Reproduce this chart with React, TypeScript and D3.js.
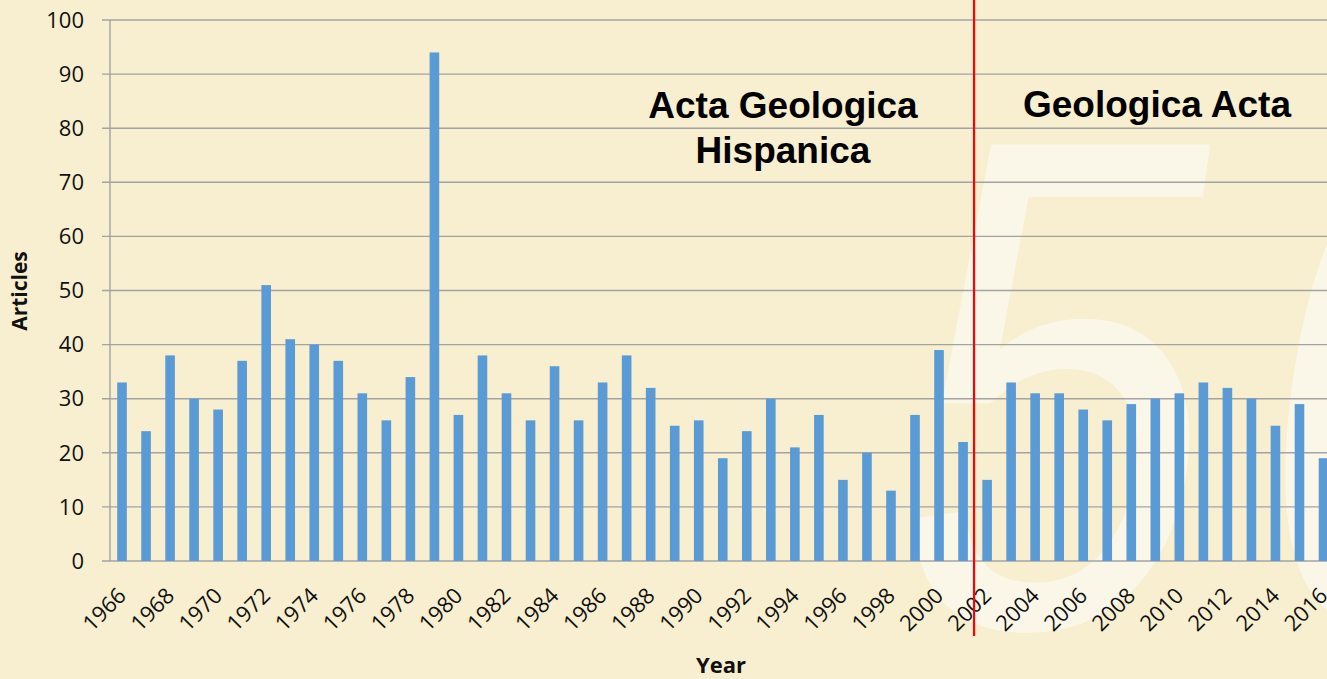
import React, { useEffect, useRef } from 'react';
import * as d3 from 'd3';

const width = 1327;
const height = 679;
const margin = { top: 20, left: 110, bottom: 118, right: 0 };
const iheight = height - margin.top - margin.bottom;
const step = 24.03;

const years = d3.range(1966, 2017).map(String);
const articles = [
  33, 24, 38, 30, 28, 37, 51, 41, 40, 37, 31, 26, 34, 94,
  27, 38, 31, 26, 36, 26, 33, 38, 32, 25, 26, 19, 24, 30, 21, 27, 15, 20, 13, 27, 39, 22,
  15, 33, 31, 31, 28, 26, 29, 30, 31, 33, 32, 30, 25, 29, 19
];
const yTicks = [0, 10, 20, 30, 40, 50, 60, 70, 80, 90, 100];
const labelYears = years.filter((d, i) => i % 2 === 0);
const splitYear = '2002';
const oldTitle = ['Acta Geologica', 'Hispanica'];
const newTitle = ['Geologica Acta'];

const bg = '#f7efcf';
const grid = '#a3a3a3';
const barColor = '#5b9bd5';

const App = () => {
  const ref = useRef(null);

  useEffect(() => {
    const svg = d3.select(ref.current);
    svg.selectAll('*').remove();

    svg.append('rect').attr('width', width).attr('height', height).attr('fill', bg);

    // big faded "50" behind the chart
    svg.append('text')
      .attr('transform', 'translate(877,626) skewX(-8) scale(0.8,1)')
      .attr('font-family', 'Liberation Sans, Arial, sans-serif')
      .attr('font-size', 700)
      .attr('letter-spacing', 60)
      .attr('fill', '#fbf7e8')
      .text('50');

    const x = d3.scaleBand()
      .domain(years)
      .range([margin.left, margin.left + years.length * step])
      .paddingInner(0.6)
      .paddingOuter(0.3);

    const y = d3.scaleLinear()
      .domain([0, 100])
      .range([margin.top + iheight, margin.top]);

    const g = svg.append('g');

    // gridlines
    g.selectAll('line.grid').data(yTicks).enter().append('line')
      .attr('class', 'grid')
      .attr('x1', margin.left - 8)
      .attr('x2', width)
      .attr('y1', d => y(d))
      .attr('y2', d => y(d))
      .attr('stroke', grid)
      .attr('stroke-width', 1.4);

    g.append('line')
      .attr('x1', margin.left).attr('x2', margin.left)
      .attr('y1', y(100)).attr('y2', y(0))
      .attr('stroke', grid).attr('stroke-width', 1.4);

    g.selectAll('text.ytick').data(yTicks).enter().append('text')
      .attr('class', 'ytick')
      .attr('x', margin.left - 26)
      .attr('y', d => y(d))
      .attr('dy', '0.35em')
      .attr('text-anchor', 'end')
      .attr('font-family', 'Open Sans, sans-serif')
      .attr('font-size', 22)
      .attr('fill', '#111')
      .text(d => d);

    // bars
    g.selectAll('rect.bar').data(articles).enter().append('rect')
      .attr('class', 'bar')
      .attr('x', (d, i) => x(years[i]))
      .attr('width', x.bandwidth())
      .attr('y', d => y(d))
      .attr('height', d => y(0) - y(d))
      .attr('fill', barColor);

    // rotated year labels
    g.selectAll('text.xtick').data(labelYears).enter().append('text')
      .attr('class', 'xtick')
      .attr('transform', d => `translate(${x(d) + x.bandwidth() / 2 + 5.5},${y(0) + 36}) rotate(-45)`)
      .attr('text-anchor', 'end')
      .attr('font-family', 'Open Sans, sans-serif')
      .attr('font-size', 22)
      .attr('fill', '#111')
      .text(d => d);

    // axis titles
    svg.append('text')
      .attr('transform', `translate(27,291) rotate(-90)`)
      .attr('text-anchor', 'middle')
      .attr('font-family', 'Open Sans, sans-serif')
      .attr('font-weight', 'bold')
      .attr('font-size', 21)
      .attr('fill', '#111')
      .text('Articles');

    svg.append('text')
      .attr('x', 721)
      .attr('y', 673)
      .attr('text-anchor', 'middle')
      .attr('font-family', 'Open Sans, sans-serif')
      .attr('font-weight', 'bold')
      .attr('font-size', 22)
      .attr('fill', '#111')
      .text('Year');

    // journal name change marker
    const splitX = x(splitYear) - x.step() * x.paddingInner() / 2 - 1;
    svg.append('line')
      .attr('x1', splitX).attr('x2', splitX)
      .attr('y1', 0).attr('y2', 636)
      .attr('stroke', '#ff0000')
      .attr('stroke-width', 2.2);

    const titleFont = 'Liberation Sans, Arial, sans-serif';
    svg.append('g').selectAll('text').data(oldTitle).enter().append('text')
      .attr('x', 783)
      .attr('y', (d, i) => 118 + i * 45)
      .attr('text-anchor', 'middle')
      .attr('font-family', titleFont)
      .attr('font-weight', 'bold')
      .attr('font-size', 37)
      .attr('fill', '#000')
      .text(d => d);

    svg.append('g').selectAll('text').data(newTitle).enter().append('text')
      .attr('x', 1157)
      .attr('y', 117)
      .attr('text-anchor', 'middle')
      .attr('font-family', titleFont)
      .attr('font-weight', 'bold')
      .attr('font-size', 37)
      .attr('fill', '#000')
      .text(d => d);
  }, []);

  return (
    <svg ref={ref} width={width} height={height}
      style={{ position: 'absolute', left: 0, top: 0, display: 'block' }} />
  );
};

export default App;
